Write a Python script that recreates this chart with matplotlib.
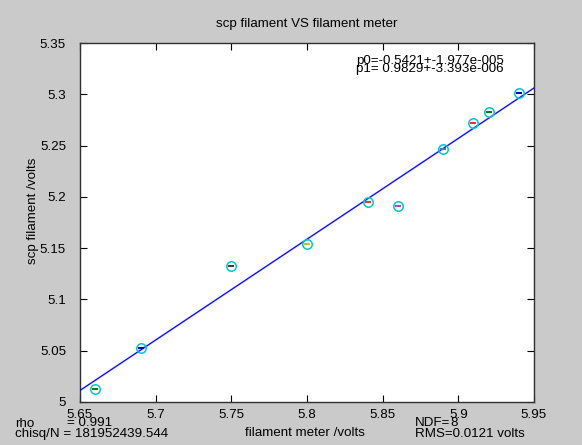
import matplotlib
matplotlib.use("Agg")
import matplotlib.pyplot as plt
import numpy as np

plt.rcParams['font.family'] = ['Liberation Sans', 'DejaVu Sans']

# Data
filament_meter = [5.66, 5.69, 5.75, 5.80, 5.84, 5.86, 5.89, 5.91, 5.92, 5.94]
scp_filament = [5.013, 5.053, 5.133, 5.154, 5.195, 5.191, 5.247, 5.272, 5.283, 5.301]
dash_colors = ['#008000', '#0000c0', '#404040', '#c8c800', '#ff3030',
               '#c040c0', '#4080c0', '#ff3030', '#008000', '#0000c0']
p0 = -0.5421
p1 = 0.9829
x_range = [5.65, 5.95]
x_ticks = [5.65, 5.7, 5.75, 5.8, 5.85, 5.9, 5.95]
x_tick_labels = ['5.65', '5.7', '5.75', '5.8', '5.85', '5.9', '5.95']
y_ticks = [5.0, 5.05, 5.1, 5.15, 5.2, 5.25, 5.3, 5.35]
y_tick_labels = ['5', '5.05', '5.1', '5.15', '5.2', '5.25', '5.3', '5.35']

W, H = 582, 445
fig = plt.figure(figsize=(W / 100, H / 100), dpi=100)
fig.patch.set_facecolor('#cacaca')

def fx(px):
    return px / W

def fy(py):
    return 1 - py / H

L, R, T, B = 80, 534, 43, 402
ax = fig.add_axes([fx(L), fy(B), fx(R) - fx(L), fy(T) - fy(B)])
ax.set_facecolor('white')

# fit line
xl = np.array(x_range)
ax.plot(xl, p1 * xl + p0, color='#9090ff', lw=1.6, alpha=0.5, zorder=2)
ax.plot(xl, p1 * xl + p0, color='#0000ff', lw=0.8, zorder=3)

# data points
ax.plot(filament_meter, scp_filament, linestyle='none', marker='o',
        markersize=6.8, markerfacecolor='none', markeredgecolor='#00c8c8',
        markeredgewidth=1.1, zorder=4)
for xv, yv, c in zip(filament_meter, scp_filament, dash_colors):
    ax.plot([xv], [yv], marker='_', markersize=4, markeredgewidth=1.5,
            color=c, linestyle='none', zorder=5)

ax.set_xlim(x_range)
ax.set_ylim(5.0, 5.35)
ax.set_xticks(x_ticks)
ax.set_xticklabels(x_tick_labels)
ax.set_yticks(y_ticks)
ax.set_yticklabels(y_tick_labels)
fs = 9.6
ax.tick_params(direction='in', length=5, width=0.8, top=True, right=True,
               labelsize=fs, colors='black', pad=4)
ax.tick_params(axis='y', pad=10)
ax.tick_params(axis='x', pad=5)
for s in ax.spines.values():
    s.set_color('#303030')
    s.set_linewidth(1.0)

fig.text(fx(307), fy(24), 'scp filament VS filament meter', ha='center', va='center', fontsize=fs)
fig.text(fx(33), fy(211), 'scp filament /volts', ha='center', va='center', rotation=90, fontsize=fs)
fig.text(fx(305), fy(433), 'filament meter /volts', ha='center', va='center', fontsize=fs)

fig.text(fx(356), fy(61), 'p0=-0.5421+-1.977e-005', ha='left', va='center', fontsize=fs)
fig.text(fx(356), fy(69), 'p1= 0.9829+-3.393e-006', ha='left', va='center', fontsize=fs)

fig.text(fx(15), fy(424), 'rho', ha='left', va='center', fontsize=fs)
fig.text(fx(67), fy(423), '= 0.991', ha='left', va='center', fontsize=fs)
fig.text(fx(15), fy(434), 'chisq/N = 181952439.544', ha='left', va='center', fontsize=fs)
fig.text(fx(415), fy(423), 'NDF=', ha='left', va='center', fontsize=fs)
fig.text(fx(450), fy(423), '8', ha='left', va='center', fontsize=fs)
fig.text(fx(415), fy(434), 'RMS=0.0121 volts', ha='left', va='center', fontsize=fs)

fig.savefig('out.png', dpi=100, facecolor=fig.get_facecolor())
